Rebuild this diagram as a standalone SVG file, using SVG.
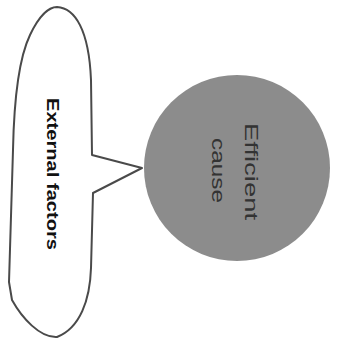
<svg xmlns="http://www.w3.org/2000/svg" width="344" height="345" viewBox="0 0 344 345">
  <style>
    .bubble { fill: #ffffff; stroke: #4a4a4a; stroke-width: 2; stroke-linejoin: round; }
    .circle { fill: #8c8c8c; stroke: none; }
    .lbl-bold { font-family: "Liberation Sans", Arial, sans-serif; font-weight: bold; fill: #111111; }
    .lbl { font-family: "Liberation Sans", Arial, sans-serif; fill: #333333; }
  </style>
  <rect width="344" height="345" fill="#ffffff"/>
  <g id="external-factors">
    <path class="bubble" d="M 92 155 L 142 168 L 93 193 L 91 268 C 90 300 80 328 57 337 C 40 338 22 318 12 300 L 9 282 L 13 150 C 14 100 18 60 30 35 C 40 14 50 7 57 7 C 75 8 89 30 91 80 Z"/>
    <text class="lbl-bold" font-size="17" transform="translate(46.5,98) rotate(90)" textLength="152" lengthAdjust="spacingAndGlyphs">External factors</text>
  </g>
  <g id="efficient-cause">
    <circle class="circle" cx="237" cy="168" r="93"/>
    <text class="lbl" font-size="18" transform="translate(245,123) rotate(90)" textLength="97" lengthAdjust="spacingAndGlyphs">Efficient</text>
    <text class="lbl" font-size="19" transform="translate(212,138) rotate(90)" textLength="65" lengthAdjust="spacingAndGlyphs">cause</text>
  </g>
  <g id="connectors"></g>
</svg>
